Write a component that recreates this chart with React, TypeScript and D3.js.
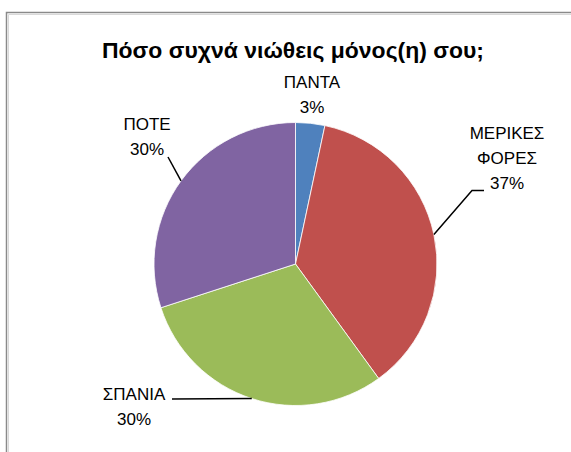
import { useEffect, useRef } from "react";
import * as d3 from "d3";

const title = "Πόσο συχνά νιώθεις μόνος(η) σου;";
const categories = ["ΠΑΝΤΑ", "ΜΕΡΙΚΕΣ ΦΟΡΕΣ", "ΣΠΑΝΙΑ", "ΠΟΤΕ"];
const counts = [1, 11, 9, 9];
const percentLabels = ["3%", "37%", "30%", "30%"];
const colors = ["#4F81BD", "#C0504D", "#9BBB59", "#8064A2"];

// label text lines (Excel wraps the long one)
const labelLines = [["ΠΑΝΤΑ"], ["ΜΕΡΙΚΕΣ", "ΦΟΡΕΣ"], ["ΣΠΑΝΙΑ"], ["ΠΟΤΕ"]];

// where Excel placed each label block (center x, first baseline) and leader elbow
const labelLayout = [
  { x: 312, y: 88, leader: null },
  { x: 507, y: 139, leader: [[472, 190.5], [484, 190.5]] },
  { x: 134, y: 400, leader: [[172, 399]] },
  { x: 147, y: 130, leader: [[168, 157]] },
];

export default function App() {
  const svgRef = useRef<SVGSVGElement>(null);

  useEffect(() => {
    const width = 571;
    const height = 452;
    const cx = 295.5;
    const cy = 264;
    const radius = 141.5;
    const font = "'Liberation Sans', Arial, sans-serif";

    const svg = d3.select(svgRef.current);
    svg.selectAll("*").remove();
    svg.attr("width", width).attr("height", height);

    svg.append("rect").attr("width", width).attr("height", height).attr("fill", "#fff");

    // chart area border (right/bottom edges fall outside the picture)
    svg
      .append("rect")
      .attr("x", 6.5)
      .attr("y", 12.5)
      .attr("width", 620)
      .attr("height", 520)
      .attr("fill", "none")
      .attr("stroke", "#8a8a8a")
      .attr("stroke-width", 1.5);
    svg
      .append("path")
      .attr("d", "M8.5,600V14.5H640")
      .attr("fill", "none")
      .attr("stroke", "#d9d9d9")
      .attr("stroke-width", 1);

    // Title
    svg
      .append("text")
      .attr("x", 293)
      .attr("y", 58)
      .attr("text-anchor", "middle")
      .attr("font-family", font)
      .attr("font-weight", "bold")
      .attr("font-size", 22)
      .attr("textLength", 382)
      .attr("lengthAdjust", "spacingAndGlyphs")
      .attr("fill", "#000")
      .text(title);

    const pie = d3
      .pie<number>()
      .sort(null)
      .value(d => d);
    const arcs = pie(counts);
    const arc = d3.arc<d3.PieArcDatum<number>>().innerRadius(0).outerRadius(radius);

    const g = svg.append("g").attr("transform", `translate(${cx},${cy})`);

    g.selectAll("path.slice")
      .data(arcs)
      .enter()
      .append("path")
      .attr("class", "slice")
      .attr("d", arc)
      .attr("fill", (d, i) => colors[i])
      .attr("stroke", "#fff")
      .attr("stroke-width", 0.8);

    // Leader lines start on the rim at the slice's middle angle
    arcs.forEach((a, i) => {
      const lay = labelLayout[i];
      if (!lay.leader) return;
      const mid = (a.startAngle + a.endAngle) / 2;
      const start: [number, number] = [cx + radius * Math.sin(mid), cy - radius * Math.cos(mid)];
      const pts = [start, ...(lay.leader as [number, number][])];
      svg
        .append("path")
        .attr("d", d3.line()(pts))
        .attr("fill", "none")
        .attr("stroke", "#000")
        .attr("stroke-width", 1.5);
    });

    // Labels
    categories.forEach((c, i) => {
      const lay = labelLayout[i];
      const lines = [...labelLines[i], percentLabels[i]];
      const t = svg
        .append("text")
        .attr("text-anchor", "middle")
        .attr("font-family", font)
        .attr("font-size", 17)
        .attr("fill", "#000");
      lines.forEach((ln, j) => {
        t.append("tspan")
          .attr("x", lay.x)
          .attr("y", lay.y + j * 25)
          .text(ln);
      });
    });
  }, []);

  return (
    <svg
      ref={svgRef}
      style={{ position: "absolute", left: 0, top: 0, display: "block" }}
    ></svg>
  );
}
